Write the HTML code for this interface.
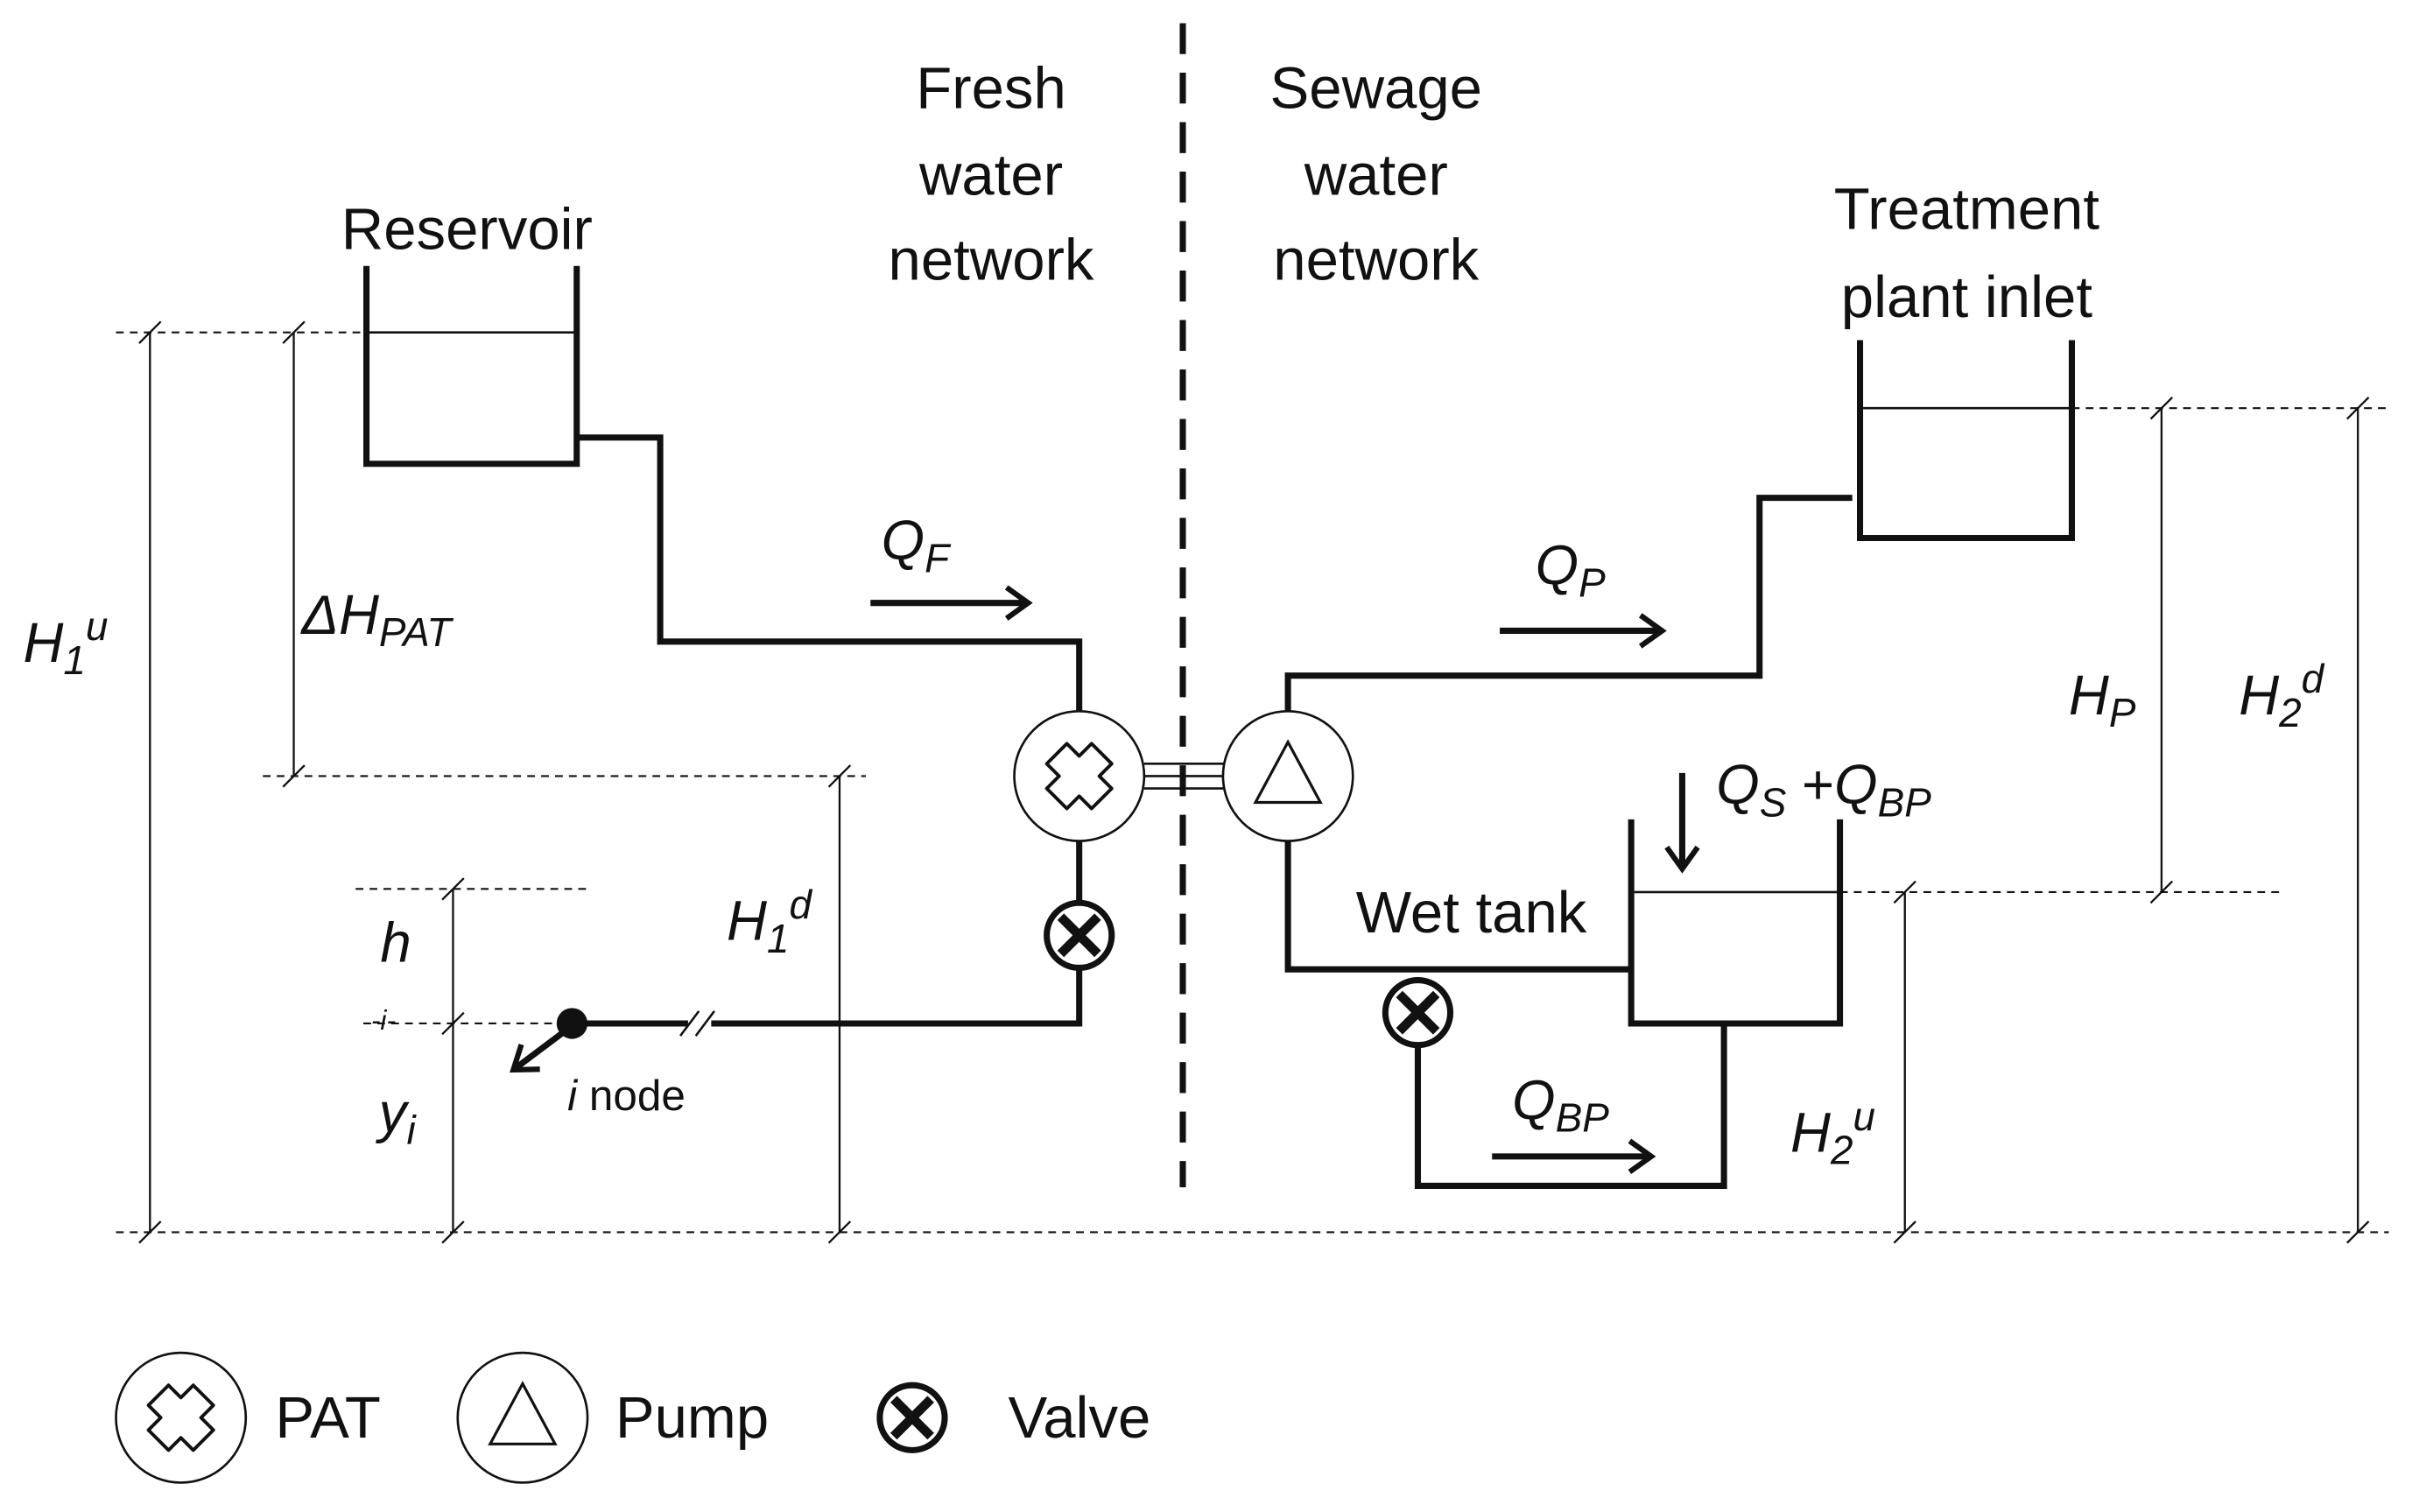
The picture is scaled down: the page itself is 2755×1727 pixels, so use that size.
<!DOCTYPE html>
<html><head><meta charset="utf-8"><style>
html,body{margin:0;padding:0;background:#fff;}
svg{display:block;}
text{font-family:"Liberation Sans",sans-serif;fill:#111;}
.it{font-style:italic;}
</style></head><body>
<svg width="2755" height="1727" viewBox="0 0 1560 978" preserveAspectRatio="none" xmlns="http://www.w3.org/2000/svg">
<defs>
<marker id="ah" markerWidth="24" markerHeight="24" refX="20" refY="12" orient="auto" markerUnits="userSpaceOnUse">
<path d="M6,2 L20,12 L6,22" fill="none" stroke="#111" stroke-width="3.5"/>
</marker>
<g id="pat">
<circle r="42" fill="#fff" stroke="#111" stroke-width="1.5"/>
<path d="M-8,-21 L0,-13 L8,-21 L21,-8 L13,0 L21,8 L8,21 L0,13 L-8,21 L-21,8 L-13,0 L-21,-8 Z" fill="none" stroke="#111" stroke-width="2.2" stroke-linejoin="round"/>
</g>
<g id="pump">
<circle r="42" fill="#fff" stroke="#111" stroke-width="1.5"/>
<path d="M0,-22 L21,17 L-21,17 Z" fill="none" stroke="#111" stroke-width="1.8"/>
</g>
<g id="valve">
<circle r="21" fill="#fff" stroke="#111" stroke-width="4"/>
<path d="M-12,-12 L12,12 M12,-12 L-12,12" stroke="#111" stroke-width="6"/>
</g>
<g id="tk"><path d="M-7,7 L7,-7" stroke="#111" stroke-width="1.3"/></g>
</defs>

<line x1="765" y1="15" x2="765" y2="768" stroke="#111" stroke-width="4" stroke-dasharray="20,12"/>

<g stroke="#111" stroke-width="1.2" stroke-dasharray="5,4" fill="none">
<line x1="75" y1="215" x2="235" y2="215"/>
<line x1="170" y1="502" x2="560" y2="502"/>
<line x1="230" y1="575" x2="380" y2="575"/>
<line x1="235" y1="662" x2="360" y2="662"/>
<line x1="75" y1="797" x2="1545" y2="797"/>
<line x1="1340" y1="264" x2="1545" y2="264"/>
<line x1="1190" y1="577" x2="1475" y2="577"/>
</g>

<g stroke="#111" stroke-width="1.3">
<line x1="97" y1="215" x2="97" y2="797"/>
<line x1="190" y1="215" x2="190" y2="502"/>
<line x1="293" y1="575" x2="293" y2="797"/>
<line x1="543" y1="502" x2="543" y2="797"/>
<line x1="1398" y1="264" x2="1398" y2="577"/>
<line x1="1525" y1="264" x2="1525" y2="797"/>
<line x1="1232" y1="577" x2="1232" y2="797"/>
</g>
<use href="#tk" x="97" y="215"/><use href="#tk" x="97" y="797"/>
<use href="#tk" x="190" y="215"/><use href="#tk" x="190" y="502"/>
<use href="#tk" x="293" y="575"/><use href="#tk" x="293" y="662"/><use href="#tk" x="293" y="797"/>
<use href="#tk" x="543" y="502"/><use href="#tk" x="543" y="797"/>
<use href="#tk" x="1398" y="264"/><use href="#tk" x="1398" y="577"/>
<use href="#tk" x="1525" y="264"/><use href="#tk" x="1525" y="797"/>
<use href="#tk" x="1232" y="577"/><use href="#tk" x="1232" y="797"/>

<g stroke="#111" stroke-width="4" fill="none">
<path d="M237,172 L237,300 L373,300 L373,172"/>
<path d="M373,283 L427,283 L427,415 L698,415 L698,460"/>
<path d="M698,544 L698,662 L460,662 M445,662 L370,662"/>
<path d="M1203,220 L1203,348 L1340,348 L1340,220"/>
<path d="M833,460 L833,437 L1138,437 L1138,322 L1198,322"/>
<path d="M1055,530 L1055,662 L1190,662 L1190,530"/>
<path d="M833,544 L833,627 L1055,627"/>
<path d="M917,633 L917,767 L1115,767 L1115,662"/>
</g>
<g stroke="#111" stroke-width="1.5">
<line x1="237" y1="215" x2="373" y2="215"/>
<line x1="1203" y1="264" x2="1340" y2="264"/>
<line x1="1057" y1="577" x2="1190" y2="577"/>
<line x1="440" y1="670" x2="452" y2="654"/>
<line x1="450" y1="670" x2="462" y2="654"/>
<line x1="740" y1="494" x2="792" y2="494"/>
<line x1="740" y1="502" x2="792" y2="502"/>
<line x1="740" y1="510" x2="792" y2="510"/>
</g>

<circle cx="370" cy="662" r="10" fill="#111"/>
<line x1="364" y1="668" x2="332" y2="692" stroke="#111" stroke-width="4" marker-end="url(#ah)"/>

<use href="#pat" x="698" y="502"/>
<use href="#pump" x="833" y="502"/>
<use href="#valve" x="698" y="605"/>
<use href="#valve" x="917" y="655"/>

<g stroke="#111" stroke-width="4">
<line x1="563" y1="390" x2="665" y2="390" marker-end="url(#ah)"/>
<line x1="970" y1="408" x2="1075" y2="408" marker-end="url(#ah)"/>
<line x1="965" y1="748" x2="1068" y2="748" marker-end="url(#ah)"/>
<line x1="1088" y1="500" x2="1088" y2="562" marker-end="url(#ah)"/>
</g>

<g font-size="38" text-anchor="middle">
<text x="641" y="70">Fresh</text>
<text x="641" y="126">water</text>
<text x="641" y="181">network</text>
<text x="890" y="70">Sewage</text>
<text x="890" y="126">water</text>
<text x="890" y="181">network</text>
<text x="302" y="161">Reservoir</text>
<text x="1272" y="148">Treatment</text>
<text x="1272" y="205">plant inlet</text>
</g>
<g font-size="38">
<text x="877" y="603">Wet tank</text>
<text x="178" y="930">PAT</text>
<text x="398" y="930">Pump</text>
<text x="652" y="930">Valve</text>
</g>
<text x="367" y="718" font-size="28"><tspan class="it">i</tspan> node</text>
<g font-size="36" class="it">
<text x="15" y="428">H<tspan font-size="26" dy="8">1</tspan><tspan font-size="26" dy="-22">u</tspan></text>
<text x="195" y="410">ΔH<tspan font-size="26" dy="8">PAT</tspan></text>
<text x="246" y="622">h</text>
<text x="245" y="732">y<tspan font-size="26" dy="8">i</tspan></text>
<text x="470" y="608">H<tspan font-size="26" dy="8">1</tspan><tspan font-size="26" dy="-22">d</tspan></text>
<text x="570" y="362">Q<tspan font-size="26" dy="8">F</tspan></text>
<text x="993" y="378">Q<tspan font-size="26" dy="8">P</tspan></text>
<text x="978" y="724">Q<tspan font-size="26" dy="8">BP</tspan></text>
<text x="1110" y="520">Q<tspan font-size="26" dy="8">S</tspan><tspan dy="-8" font-style="normal"> +</tspan>Q<tspan font-size="26" dy="8">BP</tspan></text>
<text x="1338" y="462">H<tspan font-size="26" dy="8">P</tspan></text>
<text x="1448" y="462">H<tspan font-size="26" dy="8">2</tspan><tspan font-size="26" dy="-22">d</tspan></text>
<text x="1158" y="745">H<tspan font-size="26" dy="8">2</tspan><tspan font-size="26" dy="-22">u</tspan></text>
</g>
<text x="240" y="666" font-size="18" class="it">-i-</text>

<use href="#pat" x="117" y="917"/>
<use href="#pump" x="338" y="917"/>
<use href="#valve" x="590" y="917"/>
</svg>
</body></html>
